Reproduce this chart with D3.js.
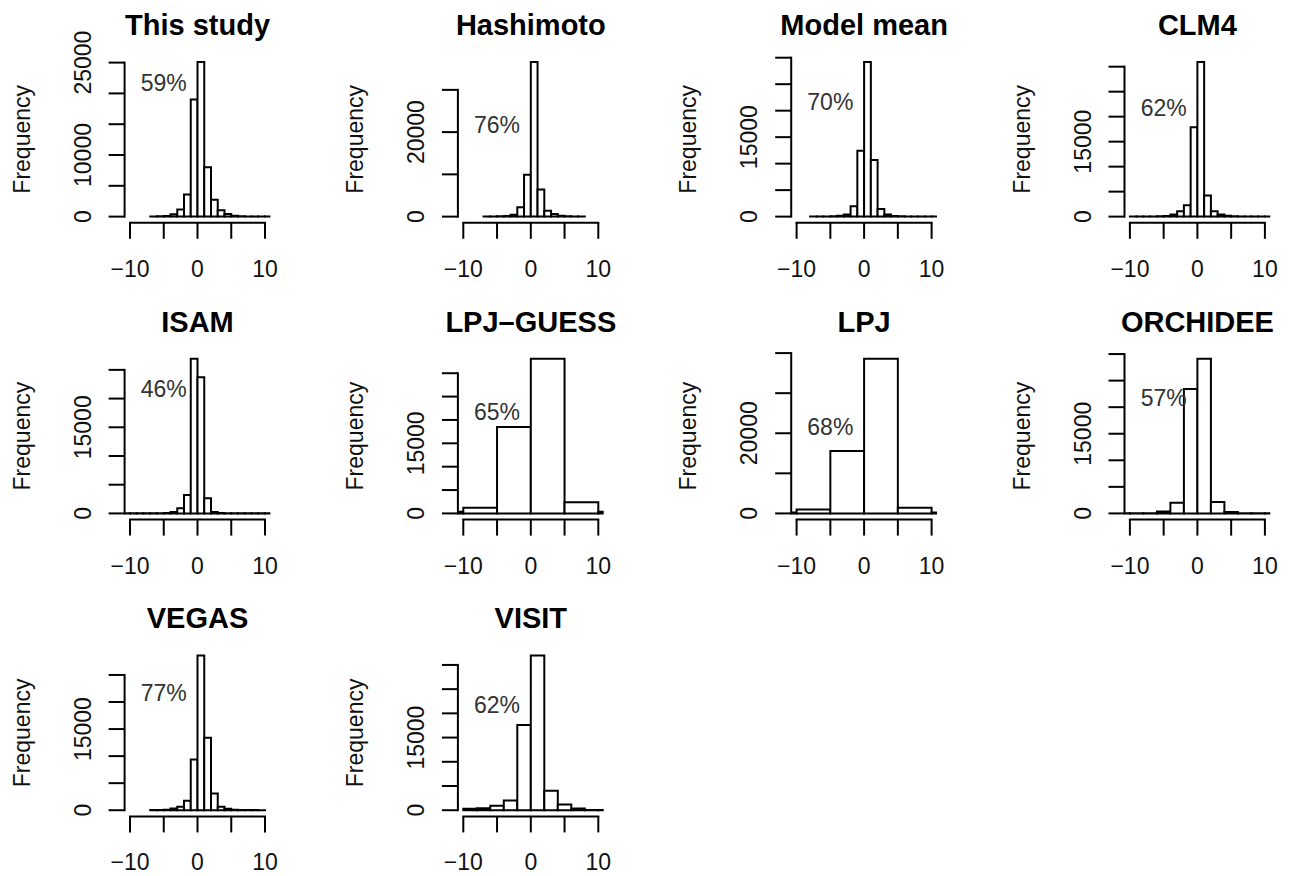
<!DOCTYPE html>
<html>
<head>
<meta charset="utf-8">
<script src="https://cdn.jsdelivr.net/npm/d3@7"></script>
<style>
  html, body { margin: 0; padding: 0; background: #fff; }
  svg { display: block; font-family: "Liberation Sans", Arial, Helvetica, sans-serif; }
</style>
</head>
<body>
<svg id="chart" width="1292" height="876"></svg>
<script>
// Panel titles, in row-major order (4 panels per row)
const titles = ["This study", "Hashimoto", "Model mean", "CLM4",
                "ISAM", "LPJ\u2013GUESS", "LPJ", "ORCHIDEE",
                "VEGAS", "VISIT"];

// Histogram bins: left edge of the first bin and bin width for each panel
const binStarts = [-7, -7, -8, -10, -11, -15, -15, -12, -7, -10];
const binWidths = [1, 1, 1, 1, 1, 5, 5, 2, 1, 2];

// Bin counts (frequency) for each panel
const thisStudy = [30, 50, 100, 400, 1150, 3600, 19030, 25100, 8010, 2740, 1020, 430, 150, 60, 30, 20, 10, 10];
const hashimoto = [20, 30, 60, 150, 470, 2200, 9900, 36600, 6400, 1400, 600, 200, 80, 40, 20];
const modelMean = [10, 20, 40, 80, 150, 380, 1950, 12430, 29190, 10670, 1440, 380, 120, 50, 30, 20, 10, 10, 10];
const clm4 = [10, 10, 20, 30, 50, 100, 400, 1070, 2270, 17870, 30940, 4200, 1070, 400, 150, 60, 30, 20, 10, 10, 10];
const isam = [10, 10, 10, 10, 20, 30, 80, 230, 880, 3220, 26930, 23710, 2630, 230, 60, 30, 20, 10, 10, 10, 10, 10];
const lpjGuess = [350, 1220, 18490, 33090, 2370, 350];
const lpj = [250, 1000, 15580, 38580, 1420, 200];
const orchidee = [10, 20, 30, 380, 2030, 23420, 29110, 2150, 250, 30, 10, 10];
const vegas = [20, 40, 100, 300, 620, 1730, 9380, 28580, 13400, 3090, 620, 250, 100, 50, 30, 20, 10];
const visit = [300, 400, 900, 2000, 17590, 31930, 4000, 1200, 350, 60, 20];

const series = [thisStudy, hashimoto, modelMean, clm4, isam, lpjGuess, lpj, orchidee, vegas, visit];

// Share annotation printed in each panel
const percents = ["59%", "76%", "70%", "62%", "46%", "65%", "68%", "57%", "77%", "62%"];

// Y tick labels that are printed (remaining ticks are unlabeled)
const yTickLabels = [
  [0, 10000, 25000], [0, 20000], [0, 15000], [0, 15000],
  [0, 15000], [0, 15000], [0, 20000], [0, 15000],
  [0, 15000], [0, 15000]
];

// X axis
const xTicks = [-10, -5, 0, 5, 10];
const xTickLabels = [-10, 0, 10];
const xLimits = [-10, 10];

// ---- layout ----
const svg = d3.select("#chart");
svg.append("rect").attr("width", 1292).attr("height", 876).attr("fill", "#fff");

const ncol = 4;
const colStep = 333.3, rowStep = 296.8;
const left0 = 124.6, top0 = 55.8;
const pw = 145.8, ph = 167;
const tickLen = 16;
const fontSize = 23;
const ink = "#000";
const lw = 2;

const fmtMinus = v => (v < 0 ? "\u2212" + Math.abs(v) : String(v));

series.forEach((counts, i) => {
  const col = i % ncol, row = Math.floor(i / ncol);
  const x0 = left0 + col * colStep;
  const y0 = top0 + row * rowStep;

  const g = svg.append("g").attr("transform", `translate(${x0},${y0})`);

  const xExt = (xLimits[1] - xLimits[0]) * 0.04;
  const x = d3.scaleLinear().domain([xLimits[0] - xExt, xLimits[1] + xExt]).range([0, pw]);
  const ymax = d3.max(counts);
  const y = d3.scaleLinear().domain([-0.04 * ymax, 1.04 * ymax]).range([ph, 0]);

  // clip bars to the plotting region
  const clipId = "clip" + i;
  g.append("clipPath").attr("id", clipId)
    .append("rect").attr("x", 0).attr("y", -2).attr("width", pw).attr("height", ph + 4);

  const bins = counts.map((c, k) => ({
    x0: binStarts[i] + k * binWidths[i],
    x1: binStarts[i] + (k + 1) * binWidths[i],
    c
  }));

  g.append("g").attr("clip-path", `url(#${clipId})`)
    .selectAll("path").data(bins).join("path")
      .attr("d", b => `M${x(b.x0)},${y(0)}V${y(b.c)}H${x(b.x1)}V${y(0)}Z`)
      .attr("fill", "#fff")
      .attr("stroke", ink)
      .attr("stroke-width", lw)
      .attr("stroke-linejoin", "miter");

  // x axis
  const xa = g.append("g").attr("transform", `translate(0,${ph})`);
  xa.append("line")
    .attr("x1", x(xLimits[0])).attr("x2", x(xLimits[1]))
    .attr("stroke", ink).attr("stroke-width", lw).attr("stroke-linecap", "square");
  xa.selectAll("line.tick").data(xTicks).join("line").attr("class", "tick")
    .attr("x1", d => x(d)).attr("x2", d => x(d))
    .attr("y1", 0).attr("y2", tickLen)
    .attr("stroke", ink).attr("stroke-width", lw);
  xa.selectAll("text").data(xTickLabels).join("text")
    .attr("x", d => x(d)).attr("y", 54)
    .attr("text-anchor", "middle")
    .attr("font-size", fontSize).attr("fill", "#111")
    .text(fmtMinus);

  // y axis
  const yt = d3.ticks(0, 1.04 * ymax, 5);
  const ya = g.append("g");
  ya.append("line")
    .attr("x1", 0).attr("x2", 0)
    .attr("y1", y(0)).attr("y2", y(d3.max(yt)))
    .attr("stroke", ink).attr("stroke-width", lw).attr("stroke-linecap", "square");
  ya.selectAll("line.tick").data(yt).join("line").attr("class", "tick")
    .attr("x1", -tickLen).attr("x2", 0)
    .attr("y1", d => y(d)).attr("y2", d => y(d))
    .attr("stroke", ink).attr("stroke-width", lw);
  ya.selectAll("text").data(yt.filter(t => yTickLabels[i].includes(t))).join("text")
    .attr("transform", d => `translate(${-34},${y(d)}) rotate(-90)`)
    .attr("text-anchor", "middle")
    .attr("font-size", fontSize).attr("fill", "#111")
    .text(d => String(d));

  // axis title
  g.append("text")
    .attr("transform", `translate(${-95},${ph / 2}) rotate(-90)`)
    .attr("text-anchor", "middle")
    .attr("font-size", fontSize).attr("fill", "#111")
    .text("Frequency");

  // panel title
  g.append("text")
    .attr("x", pw / 2).attr("y", -21)
    .attr("text-anchor", "middle")
    .attr("font-size", 29).attr("font-weight", "bold").attr("fill", "#000")
    .text(titles[i]);

  // share annotation
  g.append("text")
    .attr("x", x(-5)).attr("y", y(21700))
    .attr("dy", "0.36em")
    .attr("text-anchor", "middle")
    .attr("font-size", fontSize).attr("fill", "#333")
    .text(percents[i]);
});
</script>
</body>
</html>
